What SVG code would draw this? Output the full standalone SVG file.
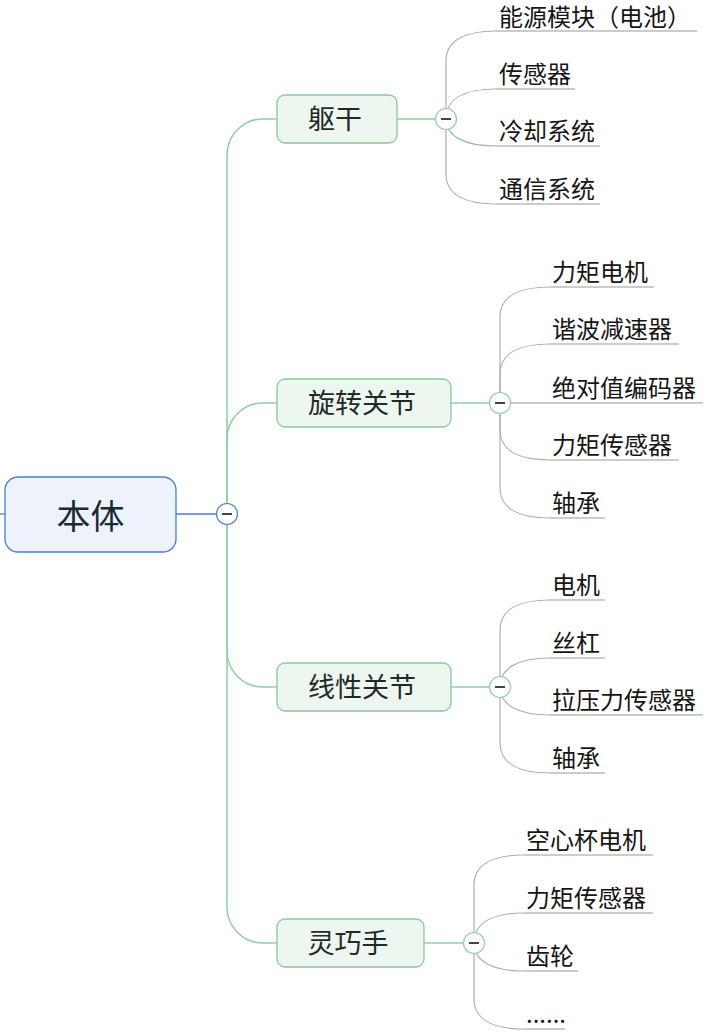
<svg xmlns="http://www.w3.org/2000/svg" width="726" height="1035" viewBox="0 0 726 1035">
<style>
text{font-family:"Noto Sans CJK SC","Noto Sans",sans-serif}
.root{fill:#eef3fb;stroke:#4a80c4;stroke-width:1.3}
.rt{font-size:34px;fill:#1b2b33;text-anchor:middle}
.sub{fill:#edf6ef;stroke:#86c99b;stroke-width:1.3}
.st{font-size:27px;fill:#1e2b27;text-anchor:middle}
.lt{font-size:24px;fill:#151515}
.blue{stroke:#4a80c4;stroke-width:1.3;fill:none}
.green{stroke:#8fd0a2;stroke-width:1.5;fill:none}
.gray{stroke:#b0b0b0;stroke-width:1.2;fill:none}
.ul{stroke:#9a9a9a;stroke-width:1.2}
.cb{fill:#fff;stroke:#4a80c4;stroke-width:1.2}
.cg{fill:#fff;stroke:#8fd0a2;stroke-width:1.2}
.minus{stroke:#444;stroke-width:2}
</style>
<rect width="726" height="1035" fill="#fff"/>
<g id="connectors">
<line class="blue" x1="0" y1="514" x2="5" y2="514"/>
<line class="blue" x1="176" y1="514" x2="216" y2="514"/>
<path class="green" d="M227 514 V155 A36 36 0 0 1 263 119 H277"/>
<path class="green" d="M227 514 V439 A36 36 0 0 1 263 403 H277"/>
<path class="green" d="M227 514 V651 A36 36 0 0 0 263 687 H277"/>
<path class="green" d="M227 514 V907 A36 36 0 0 0 263 943 H277"/>
<line class="green" x1="397" y1="119" x2="436" y2="119"/>
<line class="green" x1="451" y1="403" x2="490" y2="403"/>
<line class="green" x1="451" y1="687" x2="490" y2="687"/>
<line class="green" x1="424" y1="943" x2="464" y2="943"/>
<path class="gray" d="M446 119 V61 C446 41 464 31 496 31"/>
<path class="gray" d="M446 119 C446 99 464 89 496 89"/>
<path class="gray" d="M446 119 C446 136 464 146 496 146"/>
<path class="gray" d="M446 119 V174 C446 194 464 204 496 204"/>
<path class="gray" d="M500 403 V317 C500 297 518 287 550 287"/>
<path class="gray" d="M500 403 V374 C500 354 518 344 550 344"/>
<path class="gray" d="M500 403 V430 C500 450 518 460 550 460"/>
<path class="gray" d="M500 403 V488 C500 508 518 518 550 518"/>
<path class="gray" d="M500 687 V630 C500 610 518 600 550 600"/>
<path class="gray" d="M500 687 C500 668 518 658 550 658"/>
<path class="gray" d="M500 687 C500 705 518 715 550 715"/>
<path class="gray" d="M500 687 V743 C500 763 518 773 550 773"/>
<path class="gray" d="M474 943 V885 C474 865 492 855 524 855"/>
<path class="gray" d="M474 943 C474 923 492 913 524 913"/>
<path class="gray" d="M474 943 C474 961 492 971 524 971"/>
<path class="gray" d="M474 943 V999 C474 1019 492 1029 524 1029"/>
</g>
<g id="root">
<rect class="root" x="5" y="477" width="171" height="75" rx="13"/>
<text class="rt" x="90.5" y="529">本体</text>
<circle class="cb" cx="227" cy="514" r="10.5"/>
<line class="minus" x1="222" y1="514" x2="232" y2="514"/>
</g>
<g id="n-qugan">
<rect class="sub" x="277" y="95" width="120" height="48" rx="8"/>
<text class="st" x="335" y="129">躯干</text>
<circle class="cg" cx="446" cy="119" r="10.5"/>
<line class="minus" x1="441" y1="119" x2="451" y2="119"/>
</g>
<g id="n-xuanzhuan">
<rect class="sub" x="277" y="379" width="174" height="48" rx="8"/>
<text class="st" x="362" y="413">旋转关节</text>
<circle class="cg" cx="500" cy="403" r="10.5"/>
<line class="minus" x1="495" y1="403" x2="505" y2="403"/>
</g>
<g id="n-xianxing">
<rect class="sub" x="277" y="663" width="174" height="48" rx="8"/>
<text class="st" x="362" y="697">线性关节</text>
<circle class="cg" cx="500" cy="687" r="10.5"/>
<line class="minus" x1="495" y1="687" x2="505" y2="687"/>
</g>
<g id="n-lingqiao">
<rect class="sub" x="277" y="919" width="147" height="48" rx="8"/>
<text class="st" x="348" y="953">灵巧手</text>
<circle class="cg" cx="474" cy="943" r="10.5"/>
<line class="minus" x1="469" y1="943" x2="479" y2="943"/>
</g>
<g id="leaves-qugan">
<g id="l1"><line class="ul" x1="496" y1="31" x2="697" y2="31"/><text class="lt" x="499" y="25.5">能源模块（电池）</text></g>
<g id="l2"><line class="ul" x1="496" y1="89" x2="575" y2="89"/><text class="lt" x="499" y="82.5">传感器</text></g>
<g id="l3"><line class="ul" x1="496" y1="146" x2="600" y2="146"/><text class="lt" x="499" y="139.5">冷却系统</text></g>
<g id="l4"><line class="ul" x1="496" y1="204" x2="600" y2="204"/><text class="lt" x="499" y="197.5">通信系统</text></g>
</g>
<g id="leaves-xuanzhuan">
<g id="l5"><line class="ul" x1="550" y1="287" x2="654" y2="287"/><text class="lt" x="552" y="280.5">力矩电机</text></g>
<g id="l6"><line class="ul" x1="550" y1="344" x2="679" y2="344"/><text class="lt" x="552" y="337.5">谐波减速器</text></g>
<g id="l7"><line class="ul" x1="510" y1="403" x2="703" y2="403"/><text class="lt" x="552" y="396.5">绝对值编码器</text></g>
<g id="l8"><line class="ul" x1="550" y1="460" x2="679" y2="460"/><text class="lt" x="552" y="453.5">力矩传感器</text></g>
<g id="l9"><line class="ul" x1="550" y1="518" x2="605" y2="518"/><text class="lt" x="552" y="511.5">轴承</text></g>
</g>
<g id="leaves-xianxing">
<g id="l10"><line class="ul" x1="550" y1="600" x2="605" y2="600"/><text class="lt" x="552" y="593.5">电机</text></g>
<g id="l11"><line class="ul" x1="550" y1="658" x2="605" y2="658"/><text class="lt" x="552" y="651.5">丝杠</text></g>
<g id="l12"><line class="ul" x1="550" y1="715" x2="703" y2="715"/><text class="lt" x="552" y="708.5">拉压力传感器</text></g>
<g id="l13"><line class="ul" x1="550" y1="773" x2="605" y2="773"/><text class="lt" x="552" y="766.5">轴承</text></g>
</g>
<g id="leaves-lingqiao">
<g id="l14"><line class="ul" x1="524" y1="855" x2="653" y2="855"/><text class="lt" x="526" y="848.5">空心杯电机</text></g>
<g id="l15"><line class="ul" x1="524" y1="913" x2="653" y2="913"/><text class="lt" x="526" y="906.5">力矩传感器</text></g>
<g id="l16"><line class="ul" x1="524" y1="971" x2="578" y2="971"/><text class="lt" x="526" y="964.5">齿轮</text></g>
<g id="l17"><line class="ul" x1="524" y1="1029" x2="565" y2="1029"/><text class="lt" x="526" y="1022.5">......</text></g>
</g>
</svg>
